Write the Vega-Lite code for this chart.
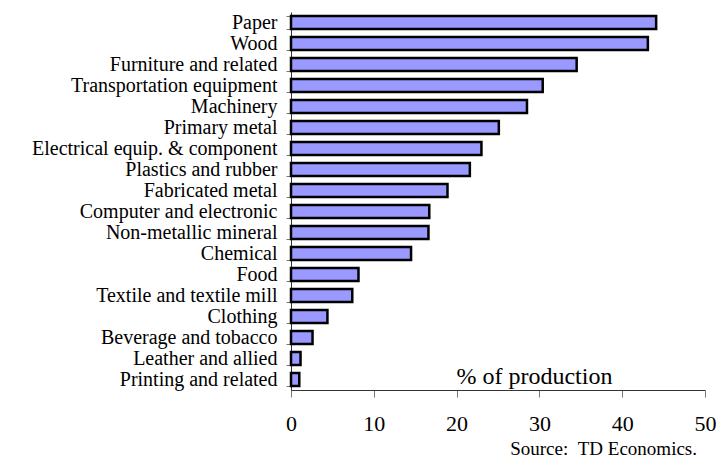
{
  "$schema": "https://vega.github.io/schema/vega-lite/v6.json",
  "autosize": {"type": "none"},
  "width": 414,
  "height": 378,
  "padding": {"left": 291, "top": 12, "right": 14, "bottom": 70},
  "background": "white",
  "config": {
    "view": {"stroke": null},
    "font": "Liberation Serif, Times New Roman, serif",
    "axis": {"labelFont": "Liberation Serif, Times New Roman, serif", "titleFont": "Liberation Serif, Times New Roman, serif", "grid": false}
  },
  "title": {
    "text": "Source:\u00a0\u00a0TD Economics.",
    "orient": "bottom",
    "anchor": "end",
    "frame": "group",
    "font": "Liberation Serif, Times New Roman, serif",
    "fontSize": 19,
    "fontWeight": "normal",
    "color": "#000",
    "offset": 6,
    "dx": -8
  },
  "layer": [
    {
      "data": {
        "values": [
          {"industry": "Paper", "value": 44.1},
          {"industry": "Wood", "value": 43.1},
          {"industry": "Furniture and related", "value": 34.5},
          {"industry": "Transportation equipment", "value": 30.4},
          {"industry": "Machinery", "value": 28.5},
          {"industry": "Primary metal", "value": 25.1},
          {"industry": "Electrical equip. & component", "value": 23.0},
          {"industry": "Plastics and rubber", "value": 21.6},
          {"industry": "Fabricated metal", "value": 18.9},
          {"industry": "Computer and electronic", "value": 16.7},
          {"industry": "Non-metallic mineral", "value": 16.6},
          {"industry": "Chemical", "value": 14.5},
          {"industry": "Food", "value": 8.15},
          {"industry": "Textile and textile mill", "value": 7.4},
          {"industry": "Clothing", "value": 4.4},
          {"industry": "Beverage and tobacco", "value": 2.6},
          {"industry": "Leather and allied", "value": 1.15},
          {"industry": "Printing and related", "value": 1.0}
        ]
      },
      "mark": {"type": "bar", "fill": "#9999FF", "stroke": "#000", "strokeWidth": 2.5},
      "encoding": {
        "y": {
          "field": "industry",
          "type": "nominal",
          "sort": null,
          "scale": {"paddingInner": 0.38, "paddingOuter": 0.19},
          "axis": {
            "title": null,
            "tickBand": "extent",
            "tickSize": 5,
            "tickColor": "#777",
            "domainColor": "#333",
            "domainWidth": 1,
            "labelFontSize": 20,
            "labelColor": "#000",
            "labelPadding": 9,
            "labelLimit": 0
          }
        },
        "x": {
          "field": "value",
          "type": "quantitative",
          "scale": {"domain": [0, 50], "nice": false},
          "axis": {
            "title": null,
            "values": [0, 10, 20, 30, 40, 50],
            "tickSize": 7,
            "tickColor": "#777",
            "domainColor": "#333",
            "labelFontSize": 22,
            "labelColor": "#000",
            "labelPadding": 16,
            "labelFlush": false
          }
        }
      }
    },
    {
      "data": {"values": [{"industry": "Printing and related", "value": 29.4, "label": "% of production"}]},
      "mark": {"type": "text", "fontSize": 24, "font": "Liberation Serif, Times New Roman, serif", "color": "#000", "baseline": "middle", "dy": -3},
      "encoding": {
        "y": {"field": "industry", "type": "nominal", "sort": null},
        "x": {"field": "value", "type": "quantitative"},
        "text": {"field": "label"}
      }
    }
  ]
}
